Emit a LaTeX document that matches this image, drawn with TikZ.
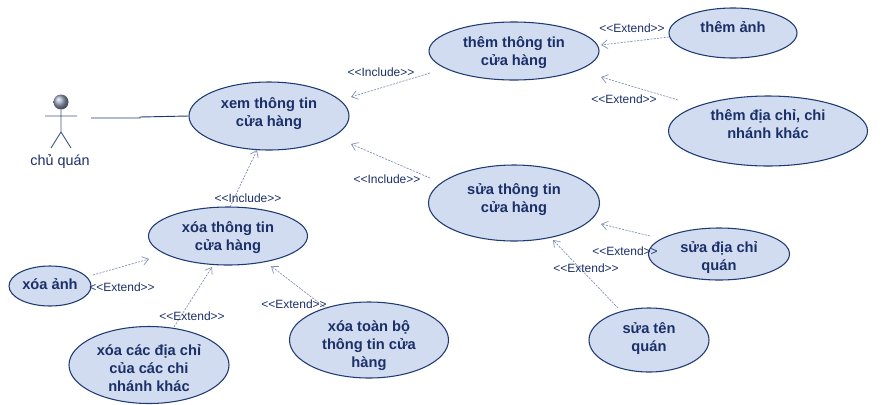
\documentclass[tikz,border=0pt]{standalone}
\usepackage{fontspec}
\setmainfont{Liberation Sans}
\usetikzlibrary{arrows.meta,shapes.geometric}
\definecolor{ucfill}{HTML}{D1DCF0}
\definecolor{ucline}{HTML}{1E3A72}
\definecolor{uctext}{HTML}{1B2F68}
\definecolor{depline}{HTML}{7F8FB2}
% move the text of a use case up or down inside its ellipse
\newcommand{\upby}[1]{\rule[-#1]{0pt}{#1}}
\newcommand{\downby}[1]{\rule{0pt}{#1}}
\tikzset{
  usecase/.style 2 args={ellipse,draw=ucline,fill=ucfill,thick,inner xsep=0pt,inner ysep=-12pt,align=center,text=uctext,
    font=\fontsize{11}{13.5}\selectfont\bfseries,minimum width=#1*0.75pt,minimum height=#2*0.75pt},
  dep/.style={draw=depline,dash pattern=on 1.6pt off 0.9pt,line width=0.5pt,-{Straight Barb[length=4.5pt,width=6.5pt]}},
  deplabel/.style={text=uctext,inner sep=0pt,font=\fontsize{9}{10}\selectfont}
}
\begin{document}
\begin{tikzpicture}[x=0.75pt,y=-0.75pt]
\useasboundingbox (0,0) rectangle (888,404);
% the use cases
\node[usecase={160}{68}] (xem) at (269,116) {xem thông tin\\cửa hàng\upby{6.7pt}};
\node[usecase={170}{58}] (them) at (514,51) {\downby{10.7pt}thêm thông tin\\cửa hàng};
\node[usecase={128}{50}] (themanh) at (733,33) {thêm ảnh\upby{9.7pt}};
\node[usecase={199}{70}] (themdc) at (768,131) {thêm địa chỉ, chi\\nhánh khác\upby{11.2pt}};
\node[usecase={171}{76}] (sua) at (514,203) {sửa thông tin\\cửa hàng\upby{8.2pt}};
\node[usecase={141}{52}] (suadc) at (719,254) {\downby{13.7pt}sửa địa chỉ\\quán};
\node[usecase={120}{64}] (suaten) at (649,340) {sửa tên\\quán\upby{5.2pt}};
\node[usecase={159}{58}] (xoa) at (228,236) {\downby{10.7pt}xóa thông tin\\cửa hàng};
\node[usecase={82}{40}] (xoaanh) at (50,286) {xóa ảnh\upby{3.7pt}};
\node[usecase={160}{77}] (xoacn) at (149,365) {\downby{12.2pt}xóa các địa chỉ\\của các chi\\nhánh khác};
\node[usecase={159}{76}] (xoatb) at (369,340) {\downby{16.7pt}xóa toàn bộ\\thông tin cửa\\hàng};
% the actor
\shade[ball color=ucline!45] (61,102) circle (7.5);
\coordinate (head) at (61,110);
\coordinate (hip) at (61,132);
\draw[ucline!85,line width=0.7pt] (head) -- (hip) -- (51,148) (hip) -- (71,148) (45,116) -- (77,116);
\node[text=uctext,inner sep=0pt,font=\fontsize{10.8}{13}\selectfont] (chuquan) at (60,162) {chủ quán};
% association
\coordinate (chuquanR) at (91,118);
\coordinate (bend) at (140,118);
\draw[ucline,line width=0.7pt] (chuquanR) -- (bend) -- ++(0,-1) -- (xem.west);
% include and extend
\draw[dep] ([shift={(-84,22)}]them.center) -- ([shift={(82,-19)}]xem.center);
\draw[dep] ([shift={(-84,-25)}]sua.center) -- ([shift={(82,28)}]xem.center);
\draw[dep] ([shift={(2,-29)}]xoa.center) -- ([shift={(-12,34)}]xem.center);
\draw[dep] ([shift={(-64,4)}]themanh.center) -- ([shift={(87,-6)}]them.center);
\draw[dep] ([shift={(-90,-31)}]themdc.center) -- ([shift={(87,26)}]them.center);
\draw[dep] ([shift={(-69,-18)}]suadc.center) -- ([shift={(87,21)}]sua.center);
\draw[dep] ([shift={(-31,-32)}]suaten.center) -- ([shift={(39,37)}]sua.center);
\draw[dep] ([shift={(43,-11)}]xoaanh.center) -- ([shift={(-79,23)}]xoa.center);
\draw[dep] ([shift={(25,-38)}]xoacn.center) -- ([shift={(-16,31)}]xoa.center);
\draw[dep] ([shift={(-42,-31)}]xoatb.center) -- ([shift={(43,30)}]xoa.center);
% their labels
\node[deplabel] (inc1) at (381,72) {<{}<Include>{}>};
\node[deplabel] (inc2) at (387,179) {<{}<Include>{}>};
\node[deplabel] (inc3) at (248,198) {<{}<Include>{}>};
\node[deplabel] (ext1) at (632,28) {<{}<Extend>{}>};
\node[deplabel] (ext2) at (624,99) {<{}<Extend>{}>};
\node[deplabel] (ext3) at (625,251) {<{}<Extend>{}>};
\node[deplabel] (ext4) at (586,268) {<{}<Extend>{}>};
\node[deplabel] (ext5) at (122,287) {<{}<Extend>{}>};
\node[deplabel] (ext6) at (192,316) {<{}<Extend>{}>};
\node[deplabel] (ext7) at (294,304) {<{}<Extend>{}>};
\end{tikzpicture}
\end{document}
